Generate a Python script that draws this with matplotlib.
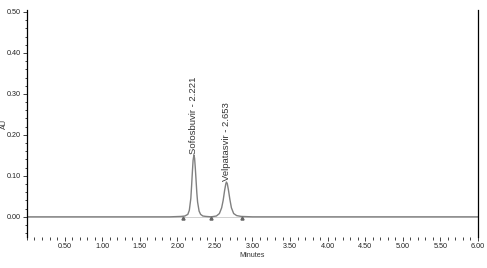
import numpy as np
import matplotlib.pyplot as plt
from matplotlib.ticker import MultipleLocator, FormatStrFormatter

plt.rcParams['font.family'] = ['Liberation Sans', 'DejaVu Sans']

# chromatogram trace (minutes, AU)
time_min = [0.00, 0.50, 1.00, 1.50, 1.90, 2.05, 2.10, 2.14, 2.16, 2.18, 2.19,
            2.20, 2.21, 2.221, 2.23, 2.24, 2.25, 2.26, 2.27, 2.29, 2.31,
            2.34, 2.38, 2.45, 2.52, 2.56, 2.59, 2.61, 2.63, 2.645, 2.653,
            2.665, 2.68, 2.70, 2.72, 2.75, 2.79, 2.85, 3.00, 4.00, 5.00, 6.00]
au = [0.000, 0.000, 0.000, 0.000, 0.000, 0.001, 0.002, 0.006, 0.016, 0.045, 0.075,
      0.108, 0.138, 0.151, 0.143, 0.118, 0.088, 0.058, 0.036, 0.014, 0.006,
      0.002, 0.001, 0.000, 0.002, 0.008, 0.022, 0.040, 0.065, 0.080, 0.085,
      0.081, 0.066, 0.042, 0.022, 0.008, 0.003, 0.001, 0.000, 0.000, 0.000, 0.000]

# integration event markers on the baseline
marks_t = [2.07, 2.45, 2.86]
marks_au = [-0.003, -0.003, -0.003]

peak_names = ['Sofosbuvir - 2.221', 'Velpatasvir - 2.653']
peak_t = [2.221, 2.653]
peak_au = [0.151, 0.085]

fig = plt.figure(figsize=(4.87, 2.68), dpi=100)
ax = fig.add_axes([0.0554, 0.116, 0.926, 0.847])

ax.axhline(0, color='#d0d0d0', lw=0.7, zorder=1)
ax.plot(time_min, au, color='#808080', lw=1.0, zorder=2)
ax.plot(marks_t, marks_au, ls='none', marker='^', ms=2.2, color='#666666')

for name, t, h in zip(peak_names, peak_t, peak_au):
    ax.text(t, h + 0.003, name, rotation=90, ha='center', va='bottom',
            fontsize=6.8, color='#333333')

ax.set_xlim(0, 6.0)
ax.set_ylim(-0.049, 0.505)

ax.set_xticks(np.arange(0.5, 6.01, 0.5))
ax.xaxis.set_major_formatter(FormatStrFormatter('%.2f'))
ax.xaxis.set_minor_locator(MultipleLocator(0.1))
ax.yaxis.set_major_locator(MultipleLocator(0.1))
ax.yaxis.set_major_formatter(FormatStrFormatter('%.2f'))
ax.yaxis.set_minor_locator(MultipleLocator(0.02))

ax.tick_params(axis='both', which='major', labelsize=5.2, length=3, width=0.6,
               colors='#222222', pad=1.5)
ax.tick_params(axis='both', which='minor', length=1.8, width=0.6, colors='#222222')

for s in ['top', 'bottom']:
    ax.spines[s].set_visible(False)
for s in ['left', 'right']:
    ax.spines[s].set_linewidth(0.9)
    ax.spines[s].set_color('black')

ax.set_xlabel('Minutes', fontsize=5.2, labelpad=1, color='#333333')
fig.text(4 / 487, 1 - 124 / 268, 'AU', rotation=90, ha='center', va='center',
         fontsize=5.2, color='#333333')

plt.savefig('out.png', dpi=100)
